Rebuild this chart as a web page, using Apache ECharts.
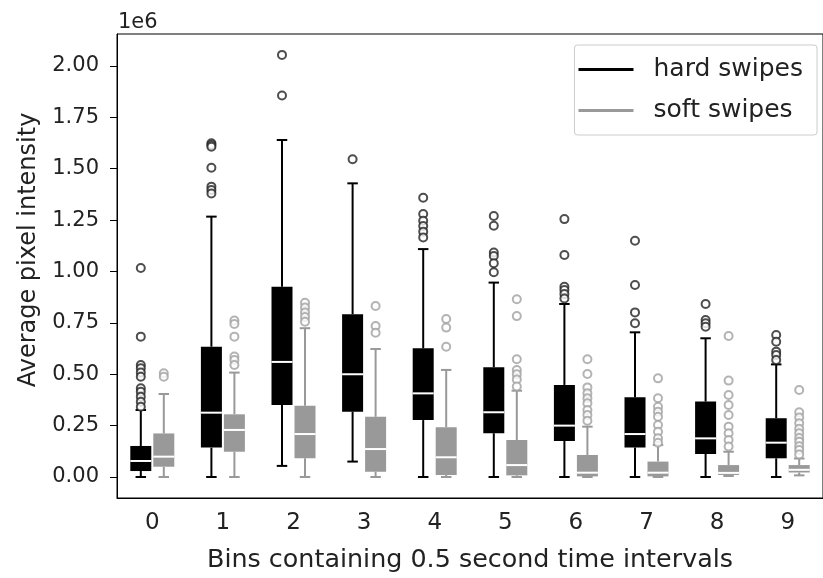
<!DOCTYPE html>
<html>
<head>
<meta charset="utf-8">
<script src="https://cdn.jsdelivr.net/npm/echarts@6/dist/echarts.min.js"></script>
<style>
  html, body { margin: 0; padding: 0; background: #fff; }
  #main { width: 823px; height: 578px; }
</style>
</head>
<body>
<div id="main"></div>
<script>
// values in units of 1e6 (the axis offset shown as "1e6")
var categories = ['0', '1', '2', '3', '4', '5', '6', '7', '8', '9'];
var yTicks = [0, 0.25, 0.5, 0.75, 1.0, 1.25, 1.5, 1.75, 2.0];

// [lower whisker, q1, median, q3, upper whisker]
var hardStats = [
    [0, 0.029, 0.078, 0.151, 0.326],
    [0, 0.143, 0.313, 0.634, 1.267],
    [0.054, 0.350, 0.560, 0.926, 1.640],
    [0.075, 0.318, 0.500, 0.792, 1.429],
    [0, 0.277, 0.407, 0.626, 1.109],
    [0, 0.213, 0.315, 0.534, 0.946],
    [0, 0.175, 0.250, 0.448, 0.842],
    [0, 0.143, 0.209, 0.388, 0.704],
    [0, 0.112, 0.188, 0.367, 0.675],
    [0, 0.091, 0.167, 0.286, 0.548]
];
var softStats = [
    [0, 0.050, 0.099, 0.212, 0.404],
    [0, 0.123, 0.229, 0.305, 0.508],
    [0, 0.091, 0.209, 0.347, 0.724],
    [0, 0.026, 0.136, 0.293, 0.623],
    [0, 0.010, 0.096, 0.242, 0.521],
    [0, 0.008, 0.058, 0.180, 0.420],
    [0, 0.003, 0.021, 0.107, 0.245],
    [0, 0.003, 0.021, 0.075, 0.156],
    [0.005, 0.010, 0.020, 0.058, 0.123],
    [0.008, 0.022, 0.035, 0.058, 0.090]
];

var hardOutliers = [
    [1.017, 0.683, 0.545, 0.529, 0.508, 0.488, 0.432, 0.415, 0.391, 0.366, 0.342],
    [1.624, 1.616, 1.607, 1.505, 1.413, 1.397, 1.380],
    [2.054, 1.856],
    [1.546],
    [1.359, 1.280, 1.247, 1.221, 1.194, 1.166],
    [1.270, 1.223, 1.092, 1.075, 1.040, 0.996],
    [1.255, 1.080, 0.926, 0.910, 0.890, 0.869],
    [1.150, 0.934, 0.801, 0.748],
    [0.842, 0.764, 0.748, 0.731],
    [0.691, 0.658, 0.610, 0.594, 0.569]
];
var softOutliers = [
    [0.505, 0.488],
    [0.761, 0.745, 0.683, 0.586, 0.569, 0.545],
    [0.848, 0.825, 0.801, 0.778, 0.756],
    [0.832, 0.735, 0.702],
    [0.769, 0.727, 0.634],
    [0.865, 0.783, 0.573, 0.521, 0.500, 0.475, 0.440],
    [0.573, 0.501, 0.436, 0.407, 0.383, 0.359, 0.326, 0.302, 0.274],
    [0.480, 0.383, 0.342, 0.318, 0.293, 0.253, 0.220, 0.188, 0.167],
    [0.686, 0.469, 0.399, 0.350, 0.302, 0.245, 0.213, 0.180, 0.148],
    [0.423, 0.315, 0.290, 0.261, 0.235, 0.213, 0.190, 0.172, 0.150, 0.131, 0.110]
];

var HARD = '#000000';
var SOFT = '#999999';
var BOX_W = 21;
var SHIFT = 11.5;
var FONT = 'DejaVu Sans';

function statRows(stats) {
    return stats.map(function (s, i) { return [i].concat(s); });
}
function outlierRows(list) {
    var rows = [];
    list.forEach(function (vals, i) {
        vals.forEach(function (v) { rows.push([i, v]); });
    });
    return rows;
}

function boxRenderer(shift, color) {
    return function (params, api) {
        var i = api.value(0);
        var x = api.coord([i, 0])[0] + shift;
        var yLo = api.coord([i, api.value(1)])[1];
        var yQ1 = api.coord([i, api.value(2)])[1];
        var yMed = api.coord([i, api.value(3)])[1];
        var yQ3 = api.coord([i, api.value(4)])[1];
        var yHi = api.coord([i, api.value(5)])[1];
        var hw = BOX_W / 2, cw = BOX_W / 4;
        function ln(x1, y1, x2, y2, c) {
            return {type: 'line', shape: {x1: x1, y1: y1, x2: x2, y2: y2},
                style: {stroke: c, lineWidth: 2}};
        }
        return {
            type: 'group',
            children: [
                ln(x, yLo, x, yQ1, color),
                ln(x, yQ3, x, yHi, color),
                ln(x - cw, yLo, x + cw, yLo, color),
                ln(x - cw, yHi, x + cw, yHi, color),
                {type: 'rect', shape: {x: x - hw, y: yQ3, width: BOX_W, height: yQ1 - yQ3},
                    style: {fill: color}},
                ln(x - hw, yMed, x + hw, yMed, '#ffffff')
            ]
        };
    };
}

var myChart = echarts.init(document.getElementById('main'));

var option = {
    backgroundColor: '#ffffff',
    textStyle: {fontFamily: FONT},
    grid: {
        left: 117, right: -9, top: 34, bottom: 80,
        show: true, borderColor: '#000', borderWidth: 1
    },
    graphic: [{
        type: 'text', left: 118, top: 12,
        style: {text: '1e6', font: '21px "DejaVu Sans"', fill: '#222'}
    }],
    legend: {
        data: ['hard swipes', 'soft swipes'],
        orient: 'vertical',
        right: 6, top: 45,
        itemWidth: 55, itemHeight: 3, itemGap: 16,
        icon: 'rect',
        padding: [12, 14, 12, 4],
        borderColor: '#cccccc', borderWidth: 1, borderRadius: 3,
        backgroundColor: 'rgba(255,255,255,0.8)',
        textStyle: {fontSize: 25, color: '#222', fontFamily: FONT, padding: [0, 0, 0, 15]}
    },
    xAxis: {
        type: 'category',
        data: categories,
        name: 'Bins containing 0.5 second time intervals',
        nameLocation: 'middle',
        nameGap: 50,
        nameTextStyle: {fontSize: 25.4, color: '#222', fontFamily: FONT},
        axisLine: {onZero: false, lineStyle: {color: '#000', width: 1}},
        axisTick: {alignWithLabel: true, length: 7, lineStyle: {color: '#000'}},
        axisLabel: {fontSize: 23, color: '#222', margin: 14, fontFamily: FONT},
        splitLine: {show: false}
    },
    yAxis: {
        type: 'value',
        min: -0.1022,
        max: 2.1557,
        name: 'Average pixel intensity',
        nameLocation: 'middle',
        nameGap: 76,
        nameTextStyle: {fontSize: 24, color: '#222', fontFamily: FONT, padding: [0, 0, 0, 32]},
        axisLine: {show: true, onZero: false, lineStyle: {color: '#000', width: 1}},
        axisTick: {show: true, length: 7, customValues: yTicks, lineStyle: {color: '#000'}},
        axisLabel: {
            fontSize: 21, color: '#222', margin: 18, fontFamily: FONT,
            customValues: yTicks,
            formatter: function (v) { return v.toFixed(2); }
        },
        splitLine: {show: false}
    },
    series: [
        {
            name: 'hard swipes',
            type: 'custom',
            renderItem: boxRenderer(-SHIFT, HARD),
            itemStyle: {color: HARD},
            encode: {x: 0, y: [1, 2, 3, 4, 5]},
            data: statRows(hardStats),
            z: 2
        },
        {
            name: 'soft swipes',
            type: 'custom',
            renderItem: boxRenderer(SHIFT, SOFT),
            itemStyle: {color: SOFT},
            encode: {x: 0, y: [1, 2, 3, 4, 5]},
            data: statRows(softStats),
            z: 2
        },
        {
            name: 'hard outliers',
            type: 'scatter',
            symbol: 'emptyCircle',
            symbolSize: 8,
            symbolOffset: [-SHIFT, 0],
            itemStyle: {color: '#222', borderWidth: 1.8},
            data: outlierRows(hardOutliers),
            z: 3
        },
        {
            name: 'soft outliers',
            type: 'scatter',
            symbol: 'emptyCircle',
            symbolSize: 8,
            symbolOffset: [SHIFT, 0],
            itemStyle: {color: '#a0a0a0', borderWidth: 1.8},
            data: outlierRows(softOutliers),
            z: 3
        }
    ]
};

myChart.setOption(option);
</script>
</body>
</html>
